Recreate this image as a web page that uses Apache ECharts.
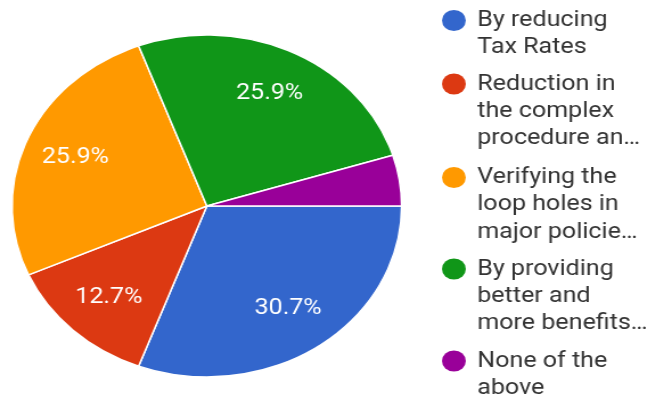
<!DOCTYPE html>
<html>
<head>
<meta charset="utf-8">
<script src="https://cdn.jsdelivr.net/npm/echarts@6/dist/echarts.min.js"></script>
<style>
  html, body { margin: 0; padding: 0; background: #fff; overflow: hidden; }
  /* the chart is laid out narrower and widened, giving the oval pie */
  #chart { width: 568px; height: 398px; transform: scaleX(1.139); transform-origin: 0 0; }
</style>
</head>
<body>
<div id="chart"></div>
<script>
// Survey answers
const categories = [
  'By reducing Tax Rates',
  'Reduction in the complex procedure an…',
  'Verifying the loop holes in major policie…',
  'By providing better and more benefits…',
  'None of the above'
];
// Legend text, broken into lines
const legendLines = [
  ['By reducing', 'Tax Rates'],
  ['Reduction in', 'the complex', 'procedure an…'],
  ['Verifying the', 'loop holes in', 'major policie…'],
  ['By providing', 'better and', 'more benefits…'],
  ['None of the', 'above']
];
// Share of responses, percent
const shares = [30.7, 12.7, 25.9, 25.9, 4.8];

const palette = ['#3366cc', '#dc3912', '#ff9900', '#109618', '#990099'];

// layout
const pieCenter = [181.6, 206];
const pieRadius = 171;
const labelRadiusFactor = 0.715;
const legendLeft = 388;
const legendIconCenters = [20.5, 84, 177.5, 269, 361];
const fontSize = 22;
const lineH = 27.3;

const chart = echarts.init(document.getElementById('chart'), null, { renderer: 'canvas' });

const pieData = categories.map((name, i) => ({ name, value: shares[i] }));

// The legend text is centred on its icon, so blank lines are put ahead of
// the text to bring its first line level with the icon.
const legends = categories.map((name, i) => {
  const n = legendLines[i].length;
  return {
    data: [name],
    orient: 'vertical',
    left: legendLeft,
    top: legendIconCenters[i] - (2 * n - 1) * lineH / 2,
    padding: 0,
    icon: 'circle',
    itemWidth: 31,
    itemHeight: 21,
    itemStyle: { borderWidth: 0 },
    selectedMode: false,
    formatter: nm => {
      const lines = legendLines[categories.indexOf(nm)];
      return '\n'.repeat(lines.length - 1) + lines.join('\n');
    },
    textStyle: { fontFamily: 'Roboto', fontSize: fontSize, lineHeight: lineH, color: '#333' }
  };
});

chart.setOption({
  animation: false,
  color: palette,
  legend: legends,
  series: [
    {
      type: 'pie',
      center: pieCenter,
      radius: [0, pieRadius],
      startAngle: 0,
      clockwise: true,
      silent: true,
      data: pieData,
      itemStyle: { borderColor: '#fff', borderWidth: 1.5 },
      label: { show: false },
      labelLine: { show: false },
      emphasis: { disabled: true }
    },
    {
      // label carrier: same slices, wider radius, so 'inside' labels sit further out
      type: 'pie',
      center: pieCenter,
      radius: [0, pieRadius * labelRadiusFactor * 2],
      startAngle: 0,
      clockwise: true,
      silent: true,
      z: 3,
      data: pieData,
      minShowLabelAngle: 20,
      itemStyle: { color: 'rgba(0,0,0,0)', borderWidth: 0 },
      label: {
        show: true,
        position: 'inside',
        formatter: '{c}%',
        color: '#fff',
        fontFamily: 'Roboto',
        fontSize: fontSize,
        rotate: 0
      },
      labelLine: { show: false },
      emphasis: { disabled: true }
    }
  ]
});
</script>
</body>
</html>
